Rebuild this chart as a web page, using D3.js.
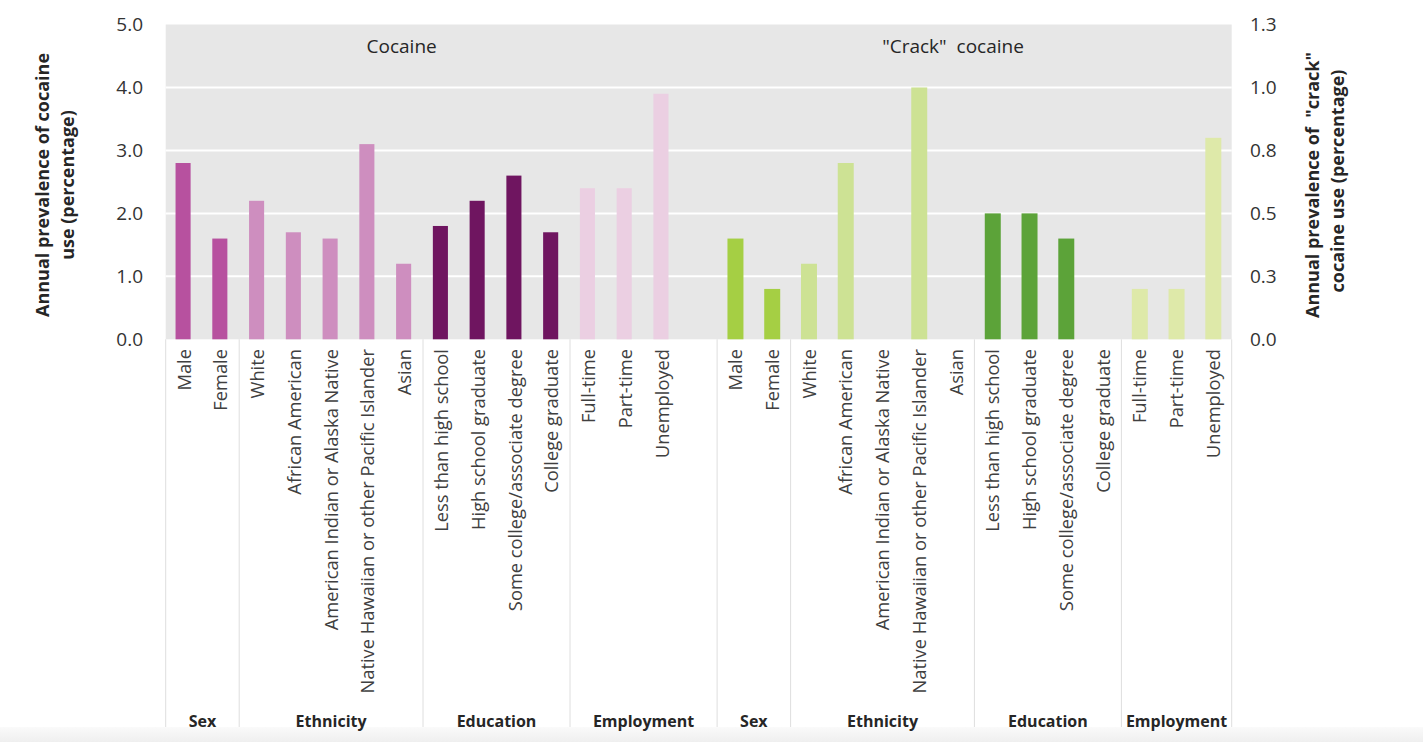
<!DOCTYPE html>
<html>
<head>
<meta charset="utf-8">
<script src="https://cdn.jsdelivr.net/npm/d3@7"></script>
<style>
  html, body { margin: 0; padding: 0; background: #ffffff; }
  svg { display: block; }
  text { font-family: "Open Sans", "DejaVu Sans", sans-serif; }
</style>
</head>
<body>
<svg id="chart" width="1423" height="742"></svg>
<script>
// ---------------- data ----------------
const categories = [
  "Male", "Female",
  "White", "African American", "American Indian or Alaska Native",
  "Native Hawaiian or other Pacific Islander", "Asian",
  "Less than high school", "High school graduate",
  "Some college/associate degree", "College graduate",
  "Full-time", "Part-time", "Unemployed"
];
const groupNames = ["Sex", "Ethnicity", "Education", "Employment"];
const groupSizes = [2, 5, 4, 3];
const cocaineValues = [2.8, 1.6, 2.2, 1.7, 1.6, 3.1, 1.2, 1.8, 2.2, 2.6, 1.7, 2.4, 2.4, 3.9];
const crackValues   = [0.4, 0.2, 0.3, 0.7, null, 1.0, null, 0.5, 0.5, 0.4, null, 0.2, 0.2, 0.8];
const leftTicks  = [0, 1, 2, 3, 4, 5];
const rightTicks = [0, 0.25, 0.5, 0.75, 1.0, 1.25];
const panelTitles = ["Cocaine", "\"Crack\"  cocaine"];
const leftTitle  = ["Annual prevalence of cocaine", "use (percentage)"];
const rightTitle = ["Annual prevalence of  \"crack\"", "cocaine use (percentage)"];

const cocaineColors = ["#b7519f", "#ce8ebf", "#6f1560", "#ebcfe2"];
const crackColors   = ["#a5cf44", "#cde294", "#5ca339", "#dee9a9"];

// ---------------- layout ----------------
const svg = d3.select("#chart");
const X0 = 165.7, X1 = 1231.7, Y0 = 339.3, YT = 24.5;

const groupOf = [];
groupSizes.forEach((n, g) => { for (let i = 0; i < n; i++) groupOf.push(g); });

const keys = categories.map((c, i) => "coc" + i)
  .concat(["gap"])
  .concat(categories.map((c, i) => "crk" + i));

const x = d3.scaleBand().domain(keys).range([X0, X1]).padding(0);
const yL = d3.scaleLinear().domain([0, 5]).range([Y0, YT]);
const yR = d3.scaleLinear().domain([0, 1.25]).range([Y0, YT]);

const defs = svg.append("defs");
const grad = defs.append("linearGradient").attr("id", "bandGrad")
  .attr("x1", 0).attr("y1", 0).attr("x2", 0).attr("y2", 1);
grad.append("stop").attr("offset", "0%").attr("stop-color", "#fafafa");
grad.append("stop").attr("offset", "100%").attr("stop-color", "#efefef");

svg.append("rect")
  .attr("x", X0).attr("y", YT)
  .attr("width", X1 - X0).attr("height", Y0 - YT)
  .attr("fill", "#e7e7e7");

svg.append("g").selectAll("line")
  .data(leftTicks.filter(t => t > 0 && t < 5))
  .join("line")
  .attr("x1", X0).attr("x2", X1)
  .attr("y1", d => yL(d)).attr("y2", d => yL(d))
  .attr("stroke", "#ffffff").attr("stroke-width", 2);

const cocData = categories.map((c, i) => ({ key: "coc" + i, v: cocaineValues[i], g: groupOf[i] }));
const crkData = categories.map((c, i) => ({ key: "crk" + i, v: crackValues[i], g: groupOf[i] }))
  .filter(d => d.v !== null);

const bwC = x.bandwidth() * 0.41;
const bwK = x.bandwidth() * 0.435;

svg.append("g").selectAll("rect")
  .data(cocData).join("rect")
  .attr("x", d => x(d.key) + (x.bandwidth() - bwC) / 2 - 1)
  .attr("width", bwC)
  .attr("y", d => yL(d.v))
  .attr("height", d => Y0 - yL(d.v))
  .attr("fill", d => cocaineColors[d.g]);

svg.append("g").selectAll("rect")
  .data(crkData).join("rect")
  .attr("x", d => x(d.key) + (x.bandwidth() - bwK) / 2)
  .attr("width", bwK)
  .attr("y", d => yR(d.v))
  .attr("height", d => Y0 - yR(d.v))
  .attr("fill", d => crackColors[d.g]);

svg.append("rect")
  .attr("x", 0).attr("y", 727).attr("width", 1423).attr("height", 15)
  .attr("fill", "url(#bandGrad)");

const groupSpans = [];
["coc", "crk"].forEach((pre, half) => {
  let start = 0;
  groupSizes.forEach((n, g) => {
    const a = x(pre + start);
    let b;
    if (half === 0 && g === groupSizes.length - 1) b = x("gap") + x.bandwidth();
    else b = x(pre + (start + n - 1)) + x.bandwidth();
    groupSpans.push({ a, b, name: groupNames[g] });
    start += n;
  });
});
const sepXs = Array.from(new Set(groupSpans.flatMap(s => [s.a, s.b]).map(v => Math.round(v * 10) / 10)));
svg.append("g").selectAll("line")
  .data(sepXs).join("line")
  .attr("x1", d => d).attr("x2", d => d)
  .attr("y1", Y0).attr("y2", 727)
  .attr("stroke", "#dedede").attr("stroke-width", 1);

svg.append("g").selectAll("text")
  .data(groupSpans).join("text")
  .attr("x", d => (d.a + d.b) / 2)
  .attr("y", 727)
  .attr("text-anchor", "middle")
  .attr("font-size", 16)
  .attr("font-weight", "bold")
  .attr("fill", "#262626")
  .text(d => d.name);

const labelData = cocData.map((d, i) => ({ key: d.key, t: categories[i] }))
  .concat(categories.map((c, i) => ({ key: "crk" + i, t: c })));
svg.append("g").selectAll("text")
  .data(labelData).join("text")
  .attr("transform", d => `translate(${x(d.key) + x.bandwidth() / 2},349) rotate(-90)`)
  .attr("text-anchor", "end")
  .attr("dy", "0.36em")
  .attr("font-size", 18.3)
  .attr("fill", "#404040")
  .text(d => d.t);

svg.append("g").selectAll("text")
  .data(leftTicks).join("text")
  .attr("x", 143).attr("y", d => yL(d))
  .attr("dy", "0.36em")
  .attr("text-anchor", "end")
  .attr("font-size", 19)
  .attr("fill", "#333333")
  .text(d => d3.format(".1f")(d));

svg.append("g").selectAll("text")
  .data(rightTicks).join("text")
  .attr("x", 1250).attr("y", d => yR(d))
  .attr("dy", "0.36em")
  .attr("text-anchor", "start")
  .attr("font-size", 19)
  .attr("fill", "#333333")
  .text(d => d3.format(".1f")(d));

svg.append("g").selectAll("text")
  .data(leftTitle).join("text")
  .attr("transform", (d, i) => `translate(${43 + i * 25},185) rotate(-90)`)
  .attr("text-anchor", "middle")
  .attr("dy", "0.36em")
  .attr("font-size", 18)
  .attr("font-weight", "bold")
  .attr("fill", "#262626")
  .text(d => d);

svg.append("g").selectAll("text")
  .data(rightTitle).join("text")
  .attr("transform", (d, i) => `translate(${1313 + i * 25},${i === 0 ? 185 : 181}) rotate(-90)`)
  .attr("text-anchor", "middle")
  .attr("dy", "0.36em")
  .attr("font-size", 18)
  .attr("font-weight", "bold")
  .attr("fill", "#262626")
  .style("white-space", "pre")
  .text(d => d);

const titleKeys = ["coc6", "crk6"];
svg.append("g").selectAll("text")
  .data(panelTitles).join("text")
  .attr("x", (d, i) => x(titleKeys[i]) + x.bandwidth() / 2 - 3)
  .attr("y", 46)
  .attr("dy", "0.36em")
  .attr("text-anchor", "middle")
  .attr("font-size", 19)
  .attr("fill", "#262626")
  .style("white-space", "pre")
  .text(d => d);
</script>
</body>
</html>
